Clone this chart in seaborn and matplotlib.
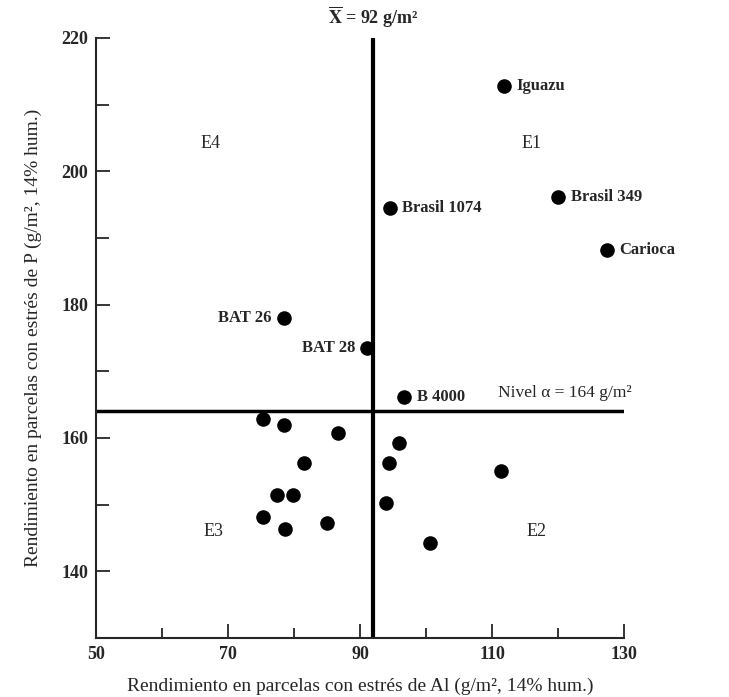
import matplotlib
matplotlib.use("Agg")
import matplotlib.pyplot as plt
from matplotlib.ticker import MultipleLocator
import seaborn as sns
import pandas as pd

# Data
al_yield = [111.8, 120.0, 94.5, 127.4, 78.5, 91.1, 96.7,
            75.3, 78.5, 86.7, 81.5, 95.9, 94.4, 111.4,
            77.4, 79.8, 75.3, 78.6, 85.0, 93.9, 100.6]
p_yield = [212.8, 196.1, 194.5, 188.2, 178.0, 173.5, 166.2,
           162.8, 161.9, 160.7, 156.3, 159.3, 156.3, 155.1,
           151.5, 151.5, 148.2, 146.4, 147.3, 150.3, 144.3]
names = ["Iguazu", "Brasil 349", "Brasil 1074", "Carioca", "BAT 26", "BAT 28", "B 4000"]
label_side = ["right", "right", "right", "right", "left", "left", "right"]

mean_al = 92
level_p = 164
zones = ["E1", "E2", "E3", "E4"]
zone_x = [116.0, 116.8, 67.8, 67.3]
zone_y = [204.2, 146.0, 146.0, 204.2]

sns.set_style("ticks")
plt.rcParams['font.family'] = ['Liberation Serif', 'DejaVu Serif']
plt.rcParams['mathtext.fontset'] = 'stix'

df = pd.DataFrame({"al": al_yield, "p": p_yield})

fig = plt.figure(figsize=(7.29, 6.97), dpi=100)
ax = fig.add_axes([0.132, 0.0846, 0.724, 0.861])

sns.scatterplot(data=df, x="al", y="p", ax=ax, color="black", s=110,
                edgecolor="black", linewidth=0, zorder=3, legend=False)

# mean lines
ax.axvline(mean_al, color="black", lw=3, zorder=2)
ax.axhline(level_p, color="black", lw=2.5, zorder=2)

# point labels
for i, name in enumerate(names):
    if label_side[i] == "right":
        ax.annotate(name, (al_yield[i], p_yield[i]), xytext=(9, 0), textcoords="offset points",
                    ha="left", va="center", fontsize=12, fontweight="bold")
    else:
        ax.annotate(name, (al_yield[i], p_yield[i]), xytext=(-9, 0), textcoords="offset points",
                    ha="right", va="center", fontsize=12, fontweight="bold")

for z, zx, zy in zip(zones, zone_x, zone_y):
    ax.text(zx, zy, z, ha="center", va="center", fontsize=13)

ax.text(110.9, level_p + 1.6, "Nivel α = 164 g/m²", ha="left", va="bottom",
        fontsize=12.5, clip_on=False)
ax.text(mean_al, 221.2, r"$\overline{\mathbf{X}}$ = 92 g/m²", ha="center", va="bottom",
        fontsize=13, fontweight="bold", clip_on=False)

ax.set_xlim(50, 130)
ax.set_ylim(130, 220)
ax.set_xticks([50, 70, 90, 110, 130])
ax.set_yticks([140, 160, 180, 200, 220])
ax.xaxis.set_minor_locator(MultipleLocator(10))
ax.yaxis.set_minor_locator(MultipleLocator(10))
ax.tick_params(which="major", direction="in", length=10, width=1.3, labelsize=13, pad=6)
ax.tick_params(which="minor", direction="in", length=7, width=1.3)
ax.tick_params(axis="y", which="minor", length=9)
for lbl in ax.get_xticklabels() + ax.get_yticklabels():
    lbl.set_fontweight("bold")

sns.despine(ax=ax)
for sp in ["left", "bottom"]:
    ax.spines[sp].set_linewidth(1.5)

ax.set_xlabel("Rendimiento en parcelas con estrés de Al (g/m², 14% hum.)", fontsize=14, labelpad=10)
ax.set_ylabel("Rendimiento en parcelas con estrés de P (g/m², 14% hum.)", fontsize=14, labelpad=14)

fig.savefig("out.png", dpi=100)
